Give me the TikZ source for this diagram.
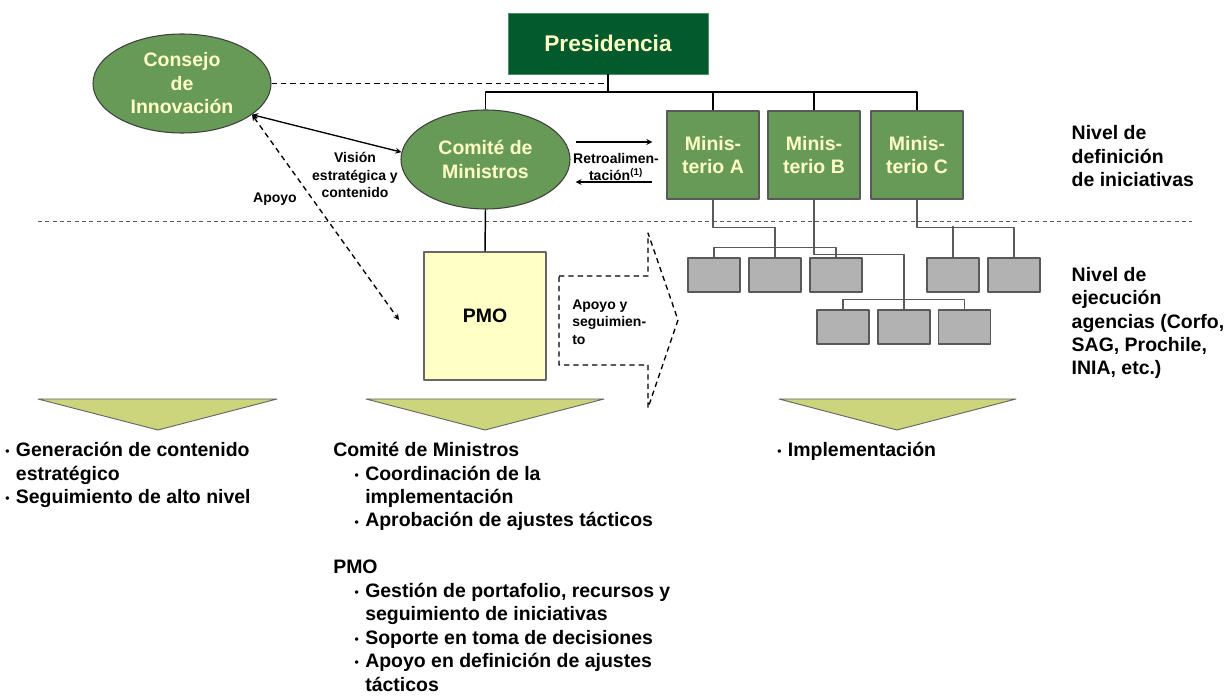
\documentclass[tikz,border=0pt]{standalone}
\usepackage{fontspec}
\setmainfont{Liberation Sans}
\usetikzlibrary{shapes.geometric,arrows}
\definecolor{presgreen}{HTML}{035A2D}
\definecolor{midgreen}{HTML}{689A57}
\definecolor{paleyellow}{HTML}{FFFFC6}
\definecolor{olivefill}{HTML}{CCD47C}
\definecolor{boxgray}{HTML}{B2B2B2}
\definecolor{linegray}{HTML}{595959}
\newcommand{\bul}{\makebox[8pt][l]{\raisebox{0.6pt}{\fontsize{9}{9}\selectfont\textbullet}}}
\begin{document}
\begin{tikzpicture}[x=0.75pt, y=-0.75pt, font=\bfseries, line join=round, >=stealth,
	txt/.style={font=\fontsize{14.6}{17.6}\selectfont\bfseries},
	lbl/.style={font=\fontsize{10.5}{13.3}\selectfont\bfseries, align=center, inner sep=0pt},
	elli/.style={ellipse, draw=black!75, line width=0.8pt, fill=midgreen, text=paleyellow, txt, align=center, inner sep=0pt},
	minbox/.style={rectangle, draw=black!65, line width=0.9pt, fill=midgreen, text=paleyellow, txt, align=center, minimum width=69pt, minimum height=66pt, inner sep=0pt},
	agency/.style={rectangle, draw=linegray, line width=1.1pt, fill=boxgray, minimum width=39pt, minimum height=25.5pt, inner sep=0pt},
	tie/.style={draw=linegray, line width=1pt},
	dashes/.style={dash pattern=on 4pt off 3pt, line width=1pt},
	funnel/.style={fill=olivefill, draw=black!60, line width=0.7pt}]
	\useasboundingbox (0,0) rectangle (1229,698);
	% nivel de definicion
	\node[rectangle, fill=presgreen, draw=presgreen!70!white, text=paleyellow, minimum width=150pt, minimum height=45.75pt, font=\fontsize{17}{20}\selectfont\bfseries] (pres) at (608,43.5) {Presidencia};
	\node[elli, minimum width=133.5pt, minimum height=74.25pt] (ci) at (182,83.5) {Consejo\\de\\Innovación};
	\node[elli, minimum width=126.75pt, minimum height=74.25pt] (cm) at (485.5,159.5) {Comité de\\Ministros};
	\node[minbox] (ma) at (713,155) {Minis-\\terio A};
	\node[minbox] (mb) at (814,155) {Minis-\\terio B};
	\node[minbox] (mc) at (917,155) {Minis-\\terio C};
	\coordinate (bus) at (608,92);
	\draw[line width=1.1pt] (pres) -- (bus);
	\draw[line width=1.1pt] (cm.north) |- (bus) -| (mc.north);
	\draw[line width=1.1pt] (ma.north) -- (ma.north |- bus) (mb.north) -- (mb.north |- bus);
	\draw[dashes] (ci.east) -- (ci.east -| pres.south);
	\draw[<->, line width=1pt] (ci.-24) -- (cm.175);
	\draw[->, line width=1pt] ([shift={(5,-17.5)}]cm.east) -- ([shift={(-14,-13)}]ma.west);
	\draw[<-, line width=1pt] ([shift={(5,22.5)}]cm.east) -- ([shift={(-14,27)}]ma.west);
	\node[lbl] (vis) at (355,175) {Visión\\estratégica y\\contenido};
	\node[lbl] (apo) at (275,199) {Apoyo};
	\node[lbl] (retro) at (616,167) {Retroalimen-\\tación\textsuperscript{(1)}};
	\node[txt, align=left, anchor=west] (nd) at (1067,156.5) {Nivel de\\definición\\de iniciativas};
	\draw[draw=black!65, line width=0.7pt, dash pattern=on 3pt off 2.5pt] (38,221) -- (1192,221);
	% nivel de ejecucion
	\node[rectangle, draw=black!60, line width=0.9pt, fill=paleyellow, minimum width=91.5pt, minimum height=96pt, txt] (pmo) at (485,316) {PMO};
	\draw[line width=1.1pt] (cm.south) -- (pmo.north);
	\coordinate (apend) at (399,320);
	\draw[<->, dashes] (ci.-24) -- (apend);
	\draw[dashes] (559,276) -- (648,276) -- (648,233) -- (678,320) -- (648,408) -- (648,365) -- (559,365) -- cycle;
	\node[lbl, align=left, anchor=west] (seg) at (572,322) {Apoyo y\\seguimien-\\to};
	\foreach \n/\x in {g1/714, g2/775, g3/836, g4/953, g5/1014}
		\node[agency] (\n) at (\x,275) {};
	\foreach \n/\x in {h1/843, h2/904, h3/964.5}
		\node[agency] (\n) at (\x,327) {};
	\draw[tie] (ma.south) -- ++(0,28) -| (g2.north);
	\draw[tie] (g1.north) -- ++(0,-10) -| (g3.north);
	\draw[tie] (mb.south) -- ++(0,55) -| (h2.north);
	\draw[tie] (h1.north) -- ++(0,-10) -| (h3.north);
	\draw[tie] (mc.south) -- ++(0,28) -| (g5.north);
	\draw[tie] (g4.north) -- ++(0,-31);
	\node[txt, align=left, anchor=west] (ne) at (1067,323) {Nivel de\\ejecución\\agencias (Corfo,\\SAG, Prochile,\\INIA, etc.)};
	% funciones
	\draw[funnel] (38,399) -- (277,399) -- (158,430) -- cycle;
	\draw[funnel] (366,399) -- (604,399) -- (485,430) -- cycle;
	\draw[funnel] (779,399) -- (1016,399) -- (897,430) -- cycle;
	\node[txt, align=left, anchor=north west, inner sep=0pt] (f1) at (5,442) {\bul Generación de contenido\\\hspace*{8pt}estratégico\\\bul Seguimiento de alto nivel};
	\node[txt, align=left, anchor=north west, inner sep=0pt] (f2) at (333,442) {Comité de Ministros\\
		\hspace*{16pt}\bul Coordinación de la\\
		\hspace*{24pt}implementación\\
		\hspace*{16pt}\bul Aprobación de ajustes tácticos\\[17.6pt]
		PMO\\
		\hspace*{16pt}\bul Gestión de portafolio, recursos y\\
		\hspace*{24pt}seguimiento de iniciativas\\
		\hspace*{16pt}\bul Soporte en toma de decisiones\\
		\hspace*{16pt}\bul Apoyo en definición de ajustes\\
		\hspace*{24pt}tácticos};
	\node[txt, align=left, anchor=north west, inner sep=0pt] (f3) at (777,442) {\bul Implementación};
\end{tikzpicture}
\end{document}
